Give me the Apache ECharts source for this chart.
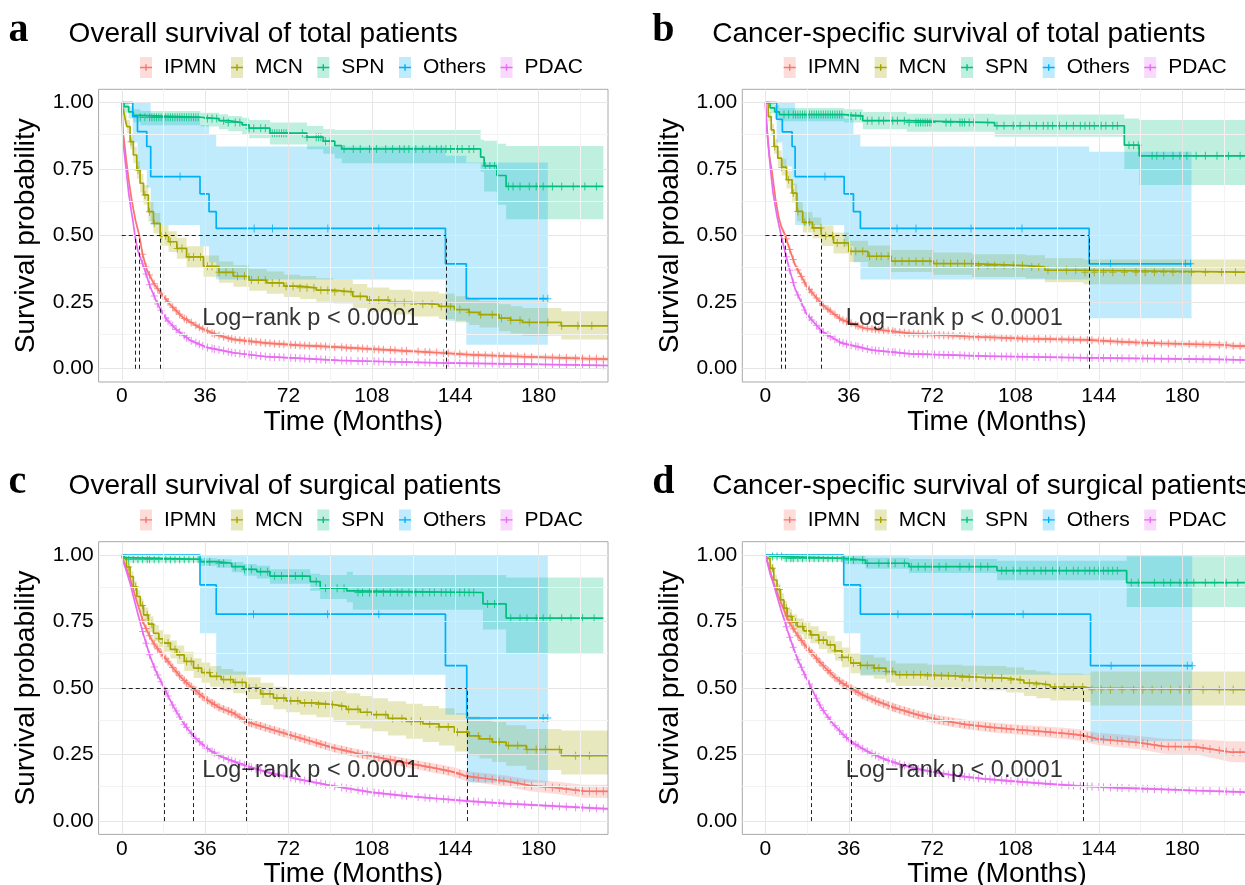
<!DOCTYPE html>
<html>
<head>
<meta charset="utf-8">
<title>Kaplan-Meier survival curves</title>
<script src="https://cdn.jsdelivr.net/npm/echarts@6/dist/echarts.min.js"></script>
<style>
  html, body { margin: 0; padding: 0; background: #fff; }
  #chart { width: 1245px; height: 885px; }
</style>
</head>
<body>
<div id="chart"></div>
<script>
// groups and colours (ggplot default hue palette)
const GROUPS = ['IPMN', 'MCN', 'SPN', 'Others', 'PDAC'];
const COLORS = ['#F8766D', '#A3A500', '#00BF7D', '#00B0F6', '#E76BF3'];
const STEP = { IPMN: false, MCN: true, SPN: true, Others: true, PDAC: false };

const PANEL_LETTERS = ['a', 'b', 'c', 'd'];
const PANEL_TITLES = [
  'Overall survival of total patients',
  'Cancer-specific survival of total patients',
  'Overall survival of surgical patients',
  'Cancer-specific survival of surgical patients'
];
const X_TICKS = [0, 36, 72, 108, 144, 180];
const X_MINOR = [18, 54, 90, 126, 162, 198];
const Y_TICKS = [0, 0.25, 0.5, 0.75, 1];
const Y_MINOR = [0.125, 0.375, 0.625, 0.875];
const LOGRANK_TEXT = 'Log\u2212rank p < 0.0001';
const LOGRANK_AT = [34.5, 0.19];

// rows: [time, survival, lower CI, upper CI]; last row = end of follow-up
// ---- a: overall survival, total patients
const A_IPMN = [[0,1,1,1],[0.5,0.89,0.879,0.901],[1,0.86,0.848,0.872],[2,0.78,0.767,0.793],[3,0.71,0.697,0.723],[4,0.65,0.637,0.663],[5,0.6,0.587,0.613],[6,0.555,0.542,0.568],[7.6,0.5,0.487,0.513],[9,0.43,0.418,0.442],[10.8,0.3725,0.361,0.384],[13.7,0.3225,0.312,0.333],[16.6,0.2875,0.277,0.298],[20.9,0.241,0.231,0.251],[26.6,0.191,0.182,0.2],[33.8,0.154,0.146,0.162],[41,0.127,0.119,0.135],[48.2,0.11,0.102,0.118],[62.6,0.096,0.088,0.104],[77,0.088,0.08,0.096],[91.4,0.082,0.074,0.09],[103,0.076,0.068,0.084],[122,0.067,0.059,0.075],[137,0.06,0.052,0.068],[151.6,0.052,0.044,0.06],[173,0.045,0.037,0.054],[200.6,0.038,0.029,0.047],[210,0.036,0.027,0.045]];
const A_MCN = [[0,1,1,1],[0.7,0.97,0.955,0.985],[1.4,0.94,0.92,0.96],[2.2,0.91,0.885,0.935],[3.6,0.853,0.825,0.88],[5,0.803,0.772,0.834],[6.5,0.747,0.714,0.78],[7.9,0.697,0.662,0.732],[9.4,0.653,0.617,0.69],[11.5,0.59,0.553,0.628],[13.7,0.546,0.508,0.585],[16.6,0.5,0.462,0.54],[20.2,0.477,0.439,0.517],[23.8,0.452,0.413,0.492],[28,0.42,0.381,0.46],[35.3,0.385,0.346,0.425],[42,0.362,0.323,0.403],[48.2,0.3475,0.308,0.389],[55,0.333,0.293,0.375],[62.6,0.3225,0.282,0.365],[70,0.31,0.269,0.353],[77,0.304,0.262,0.348],[84,0.295,0.252,0.34],[91.4,0.289,0.245,0.335],[99.8,0.272,0.228,0.318],[106,0.258,0.214,0.305],[115.6,0.249,0.204,0.297],[125,0.242,0.196,0.29],[137,0.234,0.187,0.283],[143.7,0.222,0.175,0.272],[150,0.212,0.164,0.262],[154.5,0.203,0.155,0.254],[163,0.19,0.141,0.242],[168,0.182,0.132,0.235],[173,0.174,0.124,0.228],[189.8,0.161,0.11,0.216],[210,0.161,0.11,0.216]];
const A_SPN = [[0,1,1,1],[1,0.985,0.962,1],[3,0.965,0.94,0.985],[5,0.952,0.925,0.975],[8,0.945,0.915,0.968],[34,0.94,0.91,0.962],[42,0.932,0.9,0.956],[46,0.925,0.892,0.95],[52,0.916,0.88,0.943],[55,0.904,0.866,0.935],[64,0.885,0.843,0.925],[80,0.87,0.825,0.912],[87,0.855,0.808,0.9],[92,0.838,0.79,0.897],[95,0.826,0.772,0.897],[155,0.795,0.74,0.86],[156.5,0.762,0.666,0.857],[162,0.726,0.616,0.845],[166,0.685,0.562,0.837],[208,0.685,0.562,0.837]];
const A_OTHERS = [[0,1,1,1],[4.75,0.947,0.85,1],[6.8,0.891,0.75,1],[10.8,0.835,0.68,1],[12.5,0.722,0.54,0.95],[33.8,0.657,0.46,0.916],[37.7,0.59,0.4,0.88],[40.8,0.527,0.335,0.835],[139.8,0.394,0.18,0.8],[148.8,0.263,0.09,0.775],[184,0.263,0.09,0.775]];
const A_PDAC = [[0,1,1,1],[0.5,0.86,0.855,0.865],[1,0.82,0.815,0.825],[2,0.74,0.735,0.745],[3,0.66,0.655,0.665],[4,0.6,0.595,0.605],[5,0.545,0.54,0.55],[5.7,0.5,0.495,0.505],[6.8,0.4475,0.443,0.452],[9.4,0.385,0.38,0.39],[12.2,0.31,0.306,0.314],[15.1,0.25,0.246,0.254],[16.6,0.225,0.221,0.229],[19.4,0.185,0.181,0.189],[23.8,0.145,0.141,0.149],[29.5,0.107,0.104,0.11],[36.7,0.08,0.077,0.083],[48.2,0.06,0.057,0.063],[62.6,0.045,0.042,0.048],[77,0.039,0.036,0.042],[94,0.031,0.028,0.034],[103,0.029,0.026,0.032],[137,0.022,0.019,0.025],[173,0.0175,0.014,0.021],[210,0.012,0.008,0.016]];
const A_MEDIANS = [5.7, 7.6, 16.8, 140];

// ---- b: cancer-specific survival, total patients
const B_IPMN = [[0,1,1,1],[0.7,0.9,0.889,0.911],[1.7,0.8,0.788,0.812],[2.9,0.735,0.722,0.748],[4.3,0.64,0.627,0.653],[5.8,0.565,0.552,0.578],[7,0.53,0.517,0.543],[8.6,0.5,0.487,0.513],[10,0.46,0.448,0.472],[12.8,0.39,0.378,0.402],[17.8,0.31,0.299,0.321],[24.4,0.241,0.231,0.251],[32.7,0.185,0.176,0.194],[42.7,0.152,0.143,0.161],[62.6,0.133,0.124,0.142],[87.5,0.121,0.112,0.13],[112.4,0.113,0.104,0.122],[139,0.108,0.099,0.117],[154,0.101,0.092,0.11],[170.5,0.095,0.086,0.104],[198.8,0.089,0.079,0.099],[203,0.085,0.075,0.095],[210,0.085,0.075,0.095]];
const B_MCN = [[0,1,1,1],[1.2,0.9475,0.93,0.965],[2.5,0.8975,0.875,0.92],[3.7,0.835,0.808,0.862],[5.3,0.791,0.762,0.82],[7,0.7575,0.726,0.789],[9.1,0.71,0.677,0.743],[11.5,0.66,0.625,0.695],[13.6,0.591,0.554,0.628],[16.1,0.55,0.512,0.588],[20.3,0.529,0.49,0.568],[24.1,0.5,0.461,0.539],[29.4,0.4725,0.433,0.512],[36,0.441,0.401,0.481],[44.3,0.4225,0.382,0.463],[54.3,0.404,0.363,0.446],[72.6,0.395,0.353,0.437],[89.2,0.3875,0.345,0.43],[112.4,0.3825,0.339,0.426],[120.7,0.37,0.325,0.415],[137.3,0.3625,0.317,0.41],[210,0.3625,0.317,0.41]];
const B_SPN = [[0,1,1,1],[2,0.98,0.96,1],[4,0.965,0.94,0.99],[6,0.955,0.93,0.98],[34,0.95,0.925,0.975],[42,0.932,0.9,0.965],[61,0.925,0.89,0.958],[99,0.913,0.872,0.955],[155,0.84,0.75,0.94],[161.4,0.8,0.69,0.935],[208,0.8,0.69,0.935]];
const B_OTHERS = [[0,1,1,1],[4.8,0.9375,0.85,1],[7.3,0.89,0.76,1],[11.5,0.835,0.69,1],[12.8,0.722,0.54,0.96],[34,0.657,0.46,0.94],[38,0.59,0.4,0.88],[41,0.527,0.335,0.835],[139.8,0.394,0.19,0.815],[184,0.394,0.19,0.815]];
const B_PDAC = [[0,1,1,1],[0.4,0.92,0.915,0.925],[1.4,0.8225,0.817,0.828],[2.2,0.7475,0.742,0.753],[3.3,0.66,0.655,0.665],[5,0.5725,0.567,0.578],[6.8,0.5,0.495,0.505],[8.6,0.435,0.43,0.44],[10,0.385,0.38,0.39],[12.8,0.3,0.295,0.305],[17.8,0.205,0.201,0.209],[24.4,0.14,0.136,0.144],[32.7,0.097,0.094,0.1],[46,0.07,0.067,0.073],[62.6,0.056,0.053,0.059],[95.8,0.047,0.044,0.05],[139,0.041,0.038,0.044],[195.5,0.035,0.031,0.039],[210,0.032,0.028,0.036]];
const B_MEDIANS = [6.8, 8.6, 24.1, 139.8];

// ---- c: overall survival, surgical patients
const C_IPMN = [[0,1,1,1],[0.7,0.981,0.975,0.987],[2,0.95,0.941,0.959],[3.6,0.9125,0.902,0.923],[5,0.87,0.859,0.881],[6.5,0.825,0.813,0.837],[8,0.785,0.772,0.798],[9.4,0.744,0.731,0.757],[11.5,0.705,0.691,0.719],[13.7,0.669,0.655,0.683],[16.5,0.636,0.621,0.651],[19.4,0.606,0.591,0.621],[22,0.577,0.562,0.592],[25.2,0.544,0.529,0.559],[28,0.52,0.505,0.535],[30.7,0.5,0.485,0.515],[33.5,0.478,0.463,0.493],[36.7,0.456,0.441,0.471],[42.5,0.425,0.41,0.44],[48.2,0.406,0.391,0.421],[54,0.373,0.358,0.388],[62.6,0.35,0.335,0.365],[77,0.3125,0.297,0.328],[91.4,0.275,0.259,0.291],[103,0.252,0.236,0.268],[108,0.244,0.228,0.26],[122.8,0.219,0.202,0.236],[137,0.196,0.178,0.214],[143,0.185,0.167,0.203],[148.8,0.169,0.15,0.188],[157,0.16,0.14,0.18],[166,0.15,0.129,0.171],[176,0.134,0.112,0.156],[188,0.125,0.102,0.148],[199.9,0.1125,0.088,0.137],[210,0.112,0.087,0.137]];
const C_MCN = [[0,1,1,1],[0.7,0.9875,0.978,0.996],[2,0.955,0.94,0.97],[3.6,0.919,0.9,0.938],[5,0.88,0.858,0.902],[6.5,0.844,0.82,0.868],[8,0.81,0.784,0.836],[9.4,0.775,0.748,0.803],[11.5,0.74,0.711,0.77],[13.7,0.706,0.675,0.737],[16,0.685,0.653,0.717],[18,0.669,0.636,0.702],[21,0.645,0.611,0.679],[23.8,0.625,0.59,0.66],[27,0.6,0.564,0.636],[31,0.575,0.538,0.612],[34.5,0.558,0.52,0.596],[38.2,0.544,0.505,0.583],[43,0.532,0.492,0.572],[48.2,0.521,0.48,0.562],[53.7,0.5,0.459,0.541],[60,0.478,0.436,0.52],[65.5,0.4625,0.42,0.505],[71,0.452,0.409,0.495],[77,0.444,0.4,0.488],[84,0.438,0.39,0.486],[91.4,0.431,0.372,0.49],[97,0.42,0.36,0.48],[103,0.409,0.348,0.47],[108,0.4,0.338,0.462],[115,0.386,0.322,0.45],[122.8,0.375,0.309,0.441],[130,0.365,0.297,0.433],[137,0.354,0.284,0.424],[143.7,0.334,0.262,0.406],[150,0.32,0.247,0.393],[154.5,0.309,0.235,0.383],[160,0.297,0.222,0.372],[166,0.284,0.208,0.36],[174.7,0.269,0.192,0.346],[189.8,0.246,0.175,0.34],[210,0.246,0.175,0.34]];
const C_SPN = [[0,1,1,1],[1,0.99,0.98,0.998],[2,0.984,0.972,0.994],[34,0.975,0.96,0.988],[41,0.969,0.952,0.984],[47.5,0.956,0.935,0.974],[52.6,0.946,0.922,0.966],[58.3,0.9375,0.912,0.96],[64,0.921,0.892,0.946],[81.4,0.9,0.866,0.93],[85.7,0.875,0.835,0.925],[97.2,0.865,0.822,0.9375],[99.8,0.859,0.794,0.925],[156,0.816,0.72,0.925],[166,0.7625,0.63,0.915],[208,0.7625,0.63,0.915]];
const C_OTHERS = [[0,1,1,1],[33.8,0.8875,0.706,1],[40.8,0.7775,0.55,1],[139.8,0.584,0.4,1],[149,0.3875,0.145,1],[184,0.3875,0.145,1]];
const C_PDAC = [[0,1,1,1],[0.7,0.975,0.972,0.978],[2,0.94,0.936,0.944],[3.6,0.894,0.889,0.899],[5,0.845,0.84,0.85],[6.5,0.794,0.789,0.799],[8,0.745,0.74,0.75],[9.4,0.7,0.695,0.705],[10.8,0.66,0.655,0.665],[12.2,0.619,0.614,0.624],[13.6,0.588,0.583,0.593],[15.1,0.556,0.551,0.561],[16.8,0.527,0.522,0.532],[18.4,0.5,0.495,0.505],[20.3,0.465,0.46,0.47],[22.3,0.431,0.426,0.436],[24.4,0.4,0.395,0.405],[26.6,0.369,0.364,0.374],[28.8,0.343,0.338,0.348],[31,0.319,0.314,0.324],[33.8,0.296,0.291,0.301],[36.7,0.275,0.27,0.28],[39.5,0.259,0.254,0.264],[42.5,0.244,0.239,0.249],[46.5,0.23,0.225,0.235],[51.1,0.216,0.211,0.221],[54,0.207,0.202,0.212],[62.6,0.184,0.179,0.189],[77,0.156,0.151,0.161],[91.4,0.132,0.127,0.137],[103,0.115,0.11,0.12],[108,0.108,0.103,0.113],[122,0.095,0.09,0.1],[137,0.084,0.079,0.089],[150,0.075,0.07,0.08],[166,0.066,0.061,0.071],[185,0.057,0.052,0.062],[210,0.046,0.04,0.052]];
const C_MEDIANS = [18.4, 30.7, 53.7, 149];

// ---- d: cancer-specific survival, surgical patients
const D_IPMN = [[0,1,1,1],[0.7,0.981,0.975,0.987],[2,0.94,0.931,0.949],[3.6,0.894,0.884,0.904],[5,0.86,0.849,0.871],[6.5,0.825,0.813,0.837],[8,0.793,0.78,0.806],[9.4,0.7625,0.749,0.776],[11.5,0.73,0.716,0.744],[13.7,0.7,0.686,0.714],[16.5,0.667,0.652,0.682],[19.4,0.6375,0.622,0.653],[23,0.602,0.586,0.618],[26.6,0.569,0.553,0.585],[30,0.54,0.524,0.556],[33,0.52,0.504,0.536],[36.7,0.5,0.484,0.516],[42,0.474,0.458,0.49],[48.2,0.45,0.434,0.466],[56,0.425,0.408,0.442],[65.5,0.4,0.383,0.417],[75,0.38,0.362,0.398],[87.1,0.3625,0.344,0.381],[98,0.352,0.333,0.371],[108.7,0.344,0.325,0.363],[120,0.336,0.316,0.356],[130.3,0.329,0.308,0.35],[137,0.322,0.3,0.344],[143.3,0.309,0.286,0.332],[152,0.302,0.278,0.326],[160.6,0.296,0.271,0.321],[172,0.281,0.253,0.309],[186,0.279,0.25,0.308],[200.9,0.259,0.222,0.3],[210,0.259,0.22,0.3]];
const D_MCN = [[0,1,1,1],[0.7,0.9875,0.978,0.996],[2,0.95,0.935,0.965],[3.6,0.906,0.886,0.926],[5,0.87,0.847,0.893],[6.5,0.831,0.806,0.856],[8,0.8,0.773,0.827],[9.4,0.769,0.741,0.797],[11.5,0.748,0.719,0.777],[13.7,0.731,0.701,0.761],[16.5,0.715,0.684,0.746],[19.4,0.7,0.668,0.732],[23,0.68,0.647,0.713],[26.6,0.6625,0.628,0.697],[30,0.64,0.604,0.676],[33,0.615,0.578,0.652],[36.7,0.594,0.556,0.632],[41,0.585,0.546,0.624],[46.8,0.575,0.535,0.615],[52,0.562,0.521,0.603],[56.2,0.55,0.508,0.592],[70,0.545,0.502,0.588],[85,0.54,0.496,0.584],[94.3,0.5375,0.492,0.583],[104,0.53,0.483,0.577],[111.6,0.519,0.47,0.568],[117,0.512,0.462,0.562],[123,0.504,0.453,0.555],[137.2,0.5,0.448,0.552],[140.4,0.494,0.434,0.5625],[210,0.494,0.434,0.5625]];
const D_SPN = [[0,1,1,1],[0.7,0.994,0.985,1],[7.9,0.9875,0.975,0.998],[33.8,0.981,0.965,0.995],[43.2,0.969,0.948,0.99],[62,0.956,0.932,0.985],[100,0.941,0.905,0.978],[156,0.896,0.805,0.995],[210,0.896,0.805,0.995]];
const D_OTHERS = [[0,1,1,1],[33.8,0.8875,0.706,1],[41,0.7775,0.55,1],[140.4,0.584,0.3,1],[184.3,0.584,0.3,1]];
const D_PDAC = [[0,1,1,1],[0.7,0.975,0.972,0.978],[2,0.93,0.926,0.934],[3.6,0.8875,0.883,0.892],[5,0.845,0.84,0.85],[6.5,0.8,0.795,0.805],[8,0.76,0.755,0.765],[9.4,0.719,0.714,0.724],[11.5,0.665,0.66,0.67],[13.7,0.6125,0.607,0.618],[15.5,0.578,0.573,0.583],[17.3,0.544,0.539,0.549],[19.9,0.5,0.495,0.505],[21.8,0.465,0.46,0.47],[23.8,0.431,0.426,0.436],[26.6,0.395,0.39,0.4],[29.5,0.3625,0.357,0.368],[33,0.33,0.325,0.335],[36.7,0.3,0.295,0.305],[41,0.277,0.272,0.282],[45.4,0.256,0.251,0.261],[51,0.234,0.229,0.239],[58.3,0.2125,0.207,0.218],[65,0.197,0.192,0.202],[72.7,0.184,0.179,0.189],[83,0.17,0.165,0.175],[94.3,0.159,0.154,0.164],[105,0.151,0.146,0.156],[115.9,0.144,0.139,0.149],[127,0.137,0.132,0.142],[137.5,0.131,0.126,0.136],[150,0.126,0.121,0.131],[166.3,0.121,0.116,0.126],[185,0.115,0.11,0.12],[207.4,0.109,0.104,0.114],[210,0.108,0.103,0.113]];
const D_MEDIANS = [19.9, 37, 137.2];

const DENSE_CENSOR = [9,10.5,12,14,15.5,17,19,20,22,23.5,25,27,28,30,32,33.5,35,37,39,40,42,44,46,47.5,49,51,53,55,56,58,60,62,64,66,68,70,72,73,75,77,79,81,84,86,88,90,92,95,97,99,102,104,106,109,111,113,116,118,121,123,126,128,131,133,136,139,141,144,146,149,152,154,157,160,163,165,168,171,174,177,180,183,186,189,192,196,199,202,205,208];
const MCN_CENSOR_TOTAL = [4,7,10,12,14,17,19,21,24,26,29,31,34,37,39,42,45,48,50,53,56,59,62,65,68,71,74,77,80,83,86,89,92,96,99,103,107,111,115,118,122,126,130,134,138,142,146,150,155,160,164,168,172,176,180,184,190,197,203];
const MCN_CENSOR_SURG = [3,6,9,11,13,16,18,20,23,25,28,30,33,36,38,41,44,47,49,52,55,58,61,64,67,70,73,76,79,82,85,88,91,95,98,102,106,110,114,117,121,125,129,133,137,141,145,149,154,159,163,167,171,175,179,183,189,196,202];
const SPN_CENSOR_TOTAL = [8,10,12,13,14,15,16,17,18,19,20,21,22,23,24,25,26,27,28,29,30,31,32,33,37,39,41,44,46,49,51,55,57,60,62,65,66,67,68,69,70,71,72,78,80,84,85,86,88,90,96,100,103,107,110,114,117,120,122,124,127,130,133,136,138,140,142,145,147,150,152,157,159,161,167,169,172,176,179,182,186,190,195,200,205];
const SPN_CENSOR_SURG = [3,5,7,9,11,12,14,16,18,19,21,23,25,27,29,31,33,36,38,42,44,49,53,56,60,63,66,69,72,75,78,84,88,93,96,102,104,107,110,113,116,119,121,124,127,130,133,135,138,140,142,144,146,148,150,152,158,161,168,172,175,179,182,185,190,194,199,204];
const A_OTHERS_CENSOR = [25.2, 57.2, 65.1, 89, 111, 182, 184];
const B_OTHERS_CENSOR = [25.7, 56.8, 65, 88.8, 110.8, 149, 181.4, 183.6];
const C_OTHERS_CENSOR = [56.9, 88.9, 111, 182, 184];
const D_OTHERS_CENSOR = [57.2, 89.3, 111.3, 149.3, 182.2, 184.3];

const PANELS = [
  { rows: { IPMN: A_IPMN, MCN: A_MCN, SPN: A_SPN, Others: A_OTHERS, PDAC: A_PDAC }, medians: A_MEDIANS,
    censor: { IPMN: DENSE_CENSOR, MCN: MCN_CENSOR_TOTAL, SPN: SPN_CENSOR_TOTAL, Others: A_OTHERS_CENSOR, PDAC: DENSE_CENSOR } },
  { rows: { IPMN: B_IPMN, MCN: B_MCN, SPN: B_SPN, Others: B_OTHERS, PDAC: B_PDAC }, medians: B_MEDIANS,
    censor: { IPMN: DENSE_CENSOR, MCN: MCN_CENSOR_TOTAL, SPN: SPN_CENSOR_TOTAL, Others: B_OTHERS_CENSOR, PDAC: DENSE_CENSOR } },
  { rows: { IPMN: C_IPMN, MCN: C_MCN, SPN: C_SPN, Others: C_OTHERS, PDAC: C_PDAC }, medians: C_MEDIANS,
    censor: { IPMN: DENSE_CENSOR, MCN: MCN_CENSOR_SURG, SPN: SPN_CENSOR_SURG, Others: C_OTHERS_CENSOR, PDAC: DENSE_CENSOR } },
  { rows: { IPMN: D_IPMN, MCN: D_MCN, SPN: D_SPN, Others: D_OTHERS, PDAC: D_PDAC }, medians: D_MEDIANS,
    censor: { IPMN: DENSE_CENSOR, MCN: MCN_CENSOR_SURG, SPN: SPN_CENSOR_SURG, Others: D_OTHERS_CENSOR, PDAC: DENSE_CENSOR } }
];

// ---- layout
const SANS = '"Liberation Sans", Arial, Helvetica, sans-serif';
const SERIF = '"Liberation Serif", "Times New Roman", serif';
const GRID_POS = [[98.6, 89.3], [742.3, 89.3], [98.6, 541.7], [742.3, 541.7]];
const GRID_W = 509.4, GRID_H = 292.7;

const CROSS = 'path://M0,3.5L7,3.5L7,4.5L0,4.5Z M3,0L4,0L4,8L3,8Z';
const KEY_ICON = 'path://M0,0L12,0L12,21L0,21Z M18.95,20.95L19,20.95L19,21Z';
const LINE_ICON = 'path://M0,0L0.05,0L0.05,0.05Z M18.95,20.95L19,20.95L19,21Z M0,9.8L12,9.8L12,11.2L0,11.2Z M5.3,7.3L6.7,7.3L6.7,13.7L5.3,13.7Z';

function hexA(hex, a) {
  const n = parseInt(hex.slice(1), 16);
  return 'rgba(' + (n >> 16) + ',' + ((n >> 8) & 255) + ',' + (n & 255) + ',' + a + ')';
}

function survAt(rows, t, step) {
  if (t > rows[rows.length - 1][0]) return null;
  if (step) {
    let s = rows[0][1];
    rows.forEach(r => { if (r[0] <= t) s = r[1]; });
    return s;
  }
  for (let i = 0; i < rows.length - 1; i++) {
    const a = rows[i], b = rows[i + 1];
    if (t >= a[0] && t <= b[0]) return a[1] + (b[1] - a[1]) * (t - a[0]) / (b[0] - a[0]);
  }
  return rows[rows.length - 1][1];
}

function bandSeries(rows, color, step, gi) {
  return {
    type: 'custom', xAxisIndex: gi, yAxisIndex: gi, z: 2, silent: true, clip: true,
    data: rows.map(r => [r[0], r[2], r[3]]),
    encode: { x: 0, y: [1, 2] },
    renderItem: function (params, api) {
      if (params.dataIndex !== 0) return;
      const top = [], bot = [];
      for (let i = 0; i < rows.length; i++) {
        const r = rows[i];
        if (step) {
          if (i === rows.length - 1) break;
          const nx = rows[i + 1][0];
          top.push(api.coord([r[0], r[3]]), api.coord([nx, r[3]]));
          bot.push(api.coord([r[0], r[2]]), api.coord([nx, r[2]]));
        } else {
          top.push(api.coord([r[0], r[3]]));
          bot.push(api.coord([r[0], r[2]]));
        }
      }
      return { type: 'polygon', shape: { points: top.concat(bot.reverse()) },
        style: { fill: hexA(color, 0.25) } };
    }
  };
}

const grids = [], xAxes = [], yAxes = [], series = [], legends = [], titles = [];

PANELS.forEach((p, gi) => {
  const [gl, gt] = GRID_POS[gi];
  grids.push({ left: gl, top: gt, width: GRID_W, height: GRID_H, show: true,
    borderColor: '#a8a8a8', borderWidth: 1, backgroundColor: '#fff',
    containLabel: false, outerBoundsMode: 'none' });

  xAxes.push({ gridIndex: gi, type: 'value', min: -10, max: 210,
    axisLine: { show: false },
    axisTick: { show: true, length: 4, lineStyle: { color: '#333' }, customValues: X_TICKS },
    axisLabel: { customValues: X_TICKS, fontSize: 21, color: '#000', margin: 4, fontFamily: SANS },
    splitLine: { show: false },
    name: 'Time (Months)', nameLocation: 'middle', nameGap: 24,
    nameTextStyle: { fontSize: 28, color: '#000', fontFamily: SANS } });

  yAxes.push({ gridIndex: gi, type: 'value', min: -0.05, max: 1.05,
    axisLine: { show: false },
    axisTick: { show: true, length: 4, lineStyle: { color: '#333' }, customValues: Y_TICKS },
    axisLabel: { customValues: Y_TICKS, fontSize: 21, color: '#000', margin: 5, fontFamily: SANS,
      formatter: v => v.toFixed(2) },
    splitLine: { show: false },
    name: 'Survival probability', nameLocation: 'middle', nameGap: 58,
    nameTextStyle: { fontSize: 28, color: '#000', fontFamily: SANS } });

  // grid lines
  const gl1 = c => ({ color: c, width: 1, type: 'solid' });
  series.push({ type: 'line', xAxisIndex: gi, yAxisIndex: gi, data: [], z: 1, silent: true,
    markLine: { silent: true, symbol: 'none', animation: false, label: { show: false },
      emphasis: { disabled: true },
      data: [].concat(
        X_MINOR.map(v => ({ xAxis: v, lineStyle: gl1('#f3f3f3') })),
        Y_MINOR.map(v => ({ yAxis: v, lineStyle: gl1('#f3f3f3') })),
        X_TICKS.map(v => ({ xAxis: v, lineStyle: gl1('#e6e6e6') })),
        Y_TICKS.map(v => ({ yAxis: v, lineStyle: gl1('#e6e6e6') }))
      ) } });

  GROUPS.forEach((g, k) => {
    series.push(bandSeries(p.rows[g], COLORS[k], STEP[g], gi));
  });
  GROUPS.forEach((g, k) => {
    const rows = p.rows[g];
    series.push({ name: g, type: 'line', xAxisIndex: gi, yAxisIndex: gi, z: 3,
      data: rows.map(r => [r[0], r[1]]), step: STEP[g] ? 'end' : false,
      showSymbol: false, silent: true, clip: true,
      lineStyle: { color: COLORS[k], width: 1.7 }, itemStyle: { color: COLORS[k] } });
    const pts = p.censor[g].map(t => [t, survAt(rows, t, STEP[g])]).filter(d => d[1] != null);
    series.push({ type: 'scatter', xAxisIndex: gi, yAxisIndex: gi, z: 4, silent: true,
      data: pts, symbol: CROSS, symbolSize: [7, 8], itemStyle: { color: COLORS[k] } });
  });

  // median survival reference lines
  const mx = Math.max.apply(null, p.medians);
  const dash = { color: '#222', width: 1, type: [4, 3] };
  series.push({ type: 'line', xAxisIndex: gi, yAxisIndex: gi, data: [], z: 5, silent: true,
    markLine: { silent: true, symbol: 'none', animation: false, label: { show: false },
      emphasis: { disabled: true }, lineStyle: dash,
      data: [[{ coord: [0, 0.5] }, { coord: [mx, 0.5] }]].concat(
        p.medians.map(m => [{ coord: [m, 0] }, { coord: [m, 0.5] }])) } });

  // log-rank annotation
  series.push({ type: 'scatter', xAxisIndex: gi, yAxisIndex: gi, z: 6, silent: true,
    data: [LOGRANK_AT], symbolSize: 1, itemStyle: { color: 'rgba(0,0,0,0)' },
    label: { show: true, position: 'right', distance: 0, formatter: LOGRANK_TEXT,
      fontSize: 23.5, color: '#000', fontFamily: SANS } });

  // legends: light key boxes underneath, line + censor mark on top
  const lx = gl + 41.4, ly = gt - 32.3;
  const common = { left: lx, top: ly, orient: 'horizontal', itemWidth: 19, itemHeight: 21,
    itemGap: 14.5, selectedMode: false, padding: 0 };
  legends.push(Object.assign({}, common, { z: 10,
    data: GROUPS.map((g, k) => ({ name: g, icon: KEY_ICON,
      itemStyle: { color: hexA(COLORS[k], 0.25), borderWidth: 0, borderColor: 'rgba(0,0,0,0)' } })),
    textStyle: { fontSize: 21, color: 'rgba(0,0,0,0)', fontFamily: SANS } }));
  legends.push(Object.assign({}, common, { z: 11,
    data: GROUPS.map((g, k) => ({ name: g, icon: LINE_ICON,
      itemStyle: { color: COLORS[k], borderWidth: 0, borderColor: 'rgba(0,0,0,0)' } })),
    textStyle: { fontSize: 21, color: '#000', fontFamily: SANS } }));

  titles.push({ text: PANEL_LETTERS[gi], left: gl - 95, top: gt - 84,
    textStyle: { fontSize: 40, fontWeight: 'bold', fontFamily: SERIF, color: '#000' } });
  titles.push({ text: PANEL_TITLES[gi], left: gl - 35, top: gt - 74,
    textStyle: { fontSize: 28, fontWeight: 'normal', fontFamily: SANS, color: '#000' } });
});

const chart = echarts.init(document.getElementById('chart'), null, { renderer: 'canvas' });
chart.setOption({
  animation: false,
  backgroundColor: '#fff',
  title: titles,
  legend: legends,
  grid: grids,
  xAxis: xAxes,
  yAxis: yAxes,
  series: series
});
</script>
</body>
</html>
